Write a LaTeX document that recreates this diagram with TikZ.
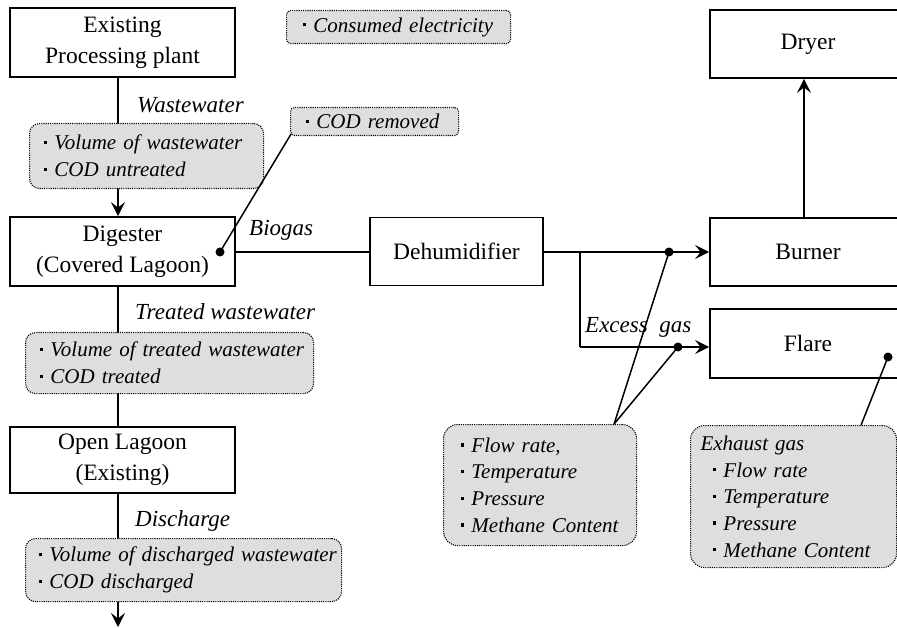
\documentclass[tikz,border=0pt]{standalone}
\usepackage{fontspec}
\setmainfont{Liberation Serif}
\usetikzlibrary{arrows.meta}
\pgfdeclarelayer{back}
\pgfdeclarelayer{under}
\pgfsetlayers{back,under,main}
\definecolor{calgray}{RGB}{222,222,222}
\newcommand{\bul}{\raisebox{0.27em}{\rule{0.16em}{0.16em}}\hspace{0.36em}}
\newcommand{\cItem}[1]{\mbox{\bul #1}}
\begin{document}
\begin{tikzpicture}[x=1pt,y=-1pt,
  blk/.style={draw, line width=1.8pt, align=center, inner sep=0pt, font=\fontsize{23.5}{31}\selectfont},
  lbl/.style={anchor=west, inner sep=0pt, font=\fontsize{23}{28}\selectfont\itshape},
  callout/.style={anchor=north west, draw, fill=calgray, line width=1.1pt, dash pattern=on 1.1pt off 1.1pt, rounded corners=10pt, align=left, inner ysep=0pt, font=\fontsize{21}{26.7}\selectfont\itshape},
  conn/.style={line width=1.5pt},
  arr/.style={conn, -{Stealth[length=14pt,width=14pt,inset=5.5pt]}}
]
\begin{pgfonlayer}{back}
\fill[white] (0,0) rectangle (897,628);
\end{pgfonlayer}
\useasboundingbox (0,0) rectangle (897,628);

% main boxes
\node[blk, minimum width=225pt, minimum height=69pt] (plant) at (122.5,42.5) {Existing\\Processing plant};
\node[blk, minimum width=225pt, minimum height=69pt] (dig) at (122.5,251.5) {Digester\\(Covered Lagoon)};
\node[blk, minimum width=225pt, minimum height=66pt] (lag) at (122.5,460) {Open Lagoon\\(Existing)};
\node[blk, minimum width=173pt, minimum height=68pt] (dehum) at (456.5,251.5) {Dehumidifier};
\node[blk, minimum width=196pt, minimum height=68pt] (dryer) at (808,44) {Dryer};
\node[blk, minimum width=196pt, minimum height=68pt] (burner) at (808,252) {Burner};
\node[blk, minimum width=196pt, minimum height=69pt] (flare) at (808,343.5) {Flare};

% callouts
\node[callout, rounded corners=4pt, inner xsep=16pt, text width=192pt, minimum height=33pt] (elec) at (286,10) {\cItem{Consumed electricity}};
\node[callout, rounded corners=4pt, inner xsep=15pt, text width=138pt, minimum height=28pt] (codrem) at (290,107) {\cItem{COD removed}};
\node[callout, inner xsep=14pt, text width=206pt, minimum height=65pt] (c1) at (29,123) {\cItem{Volume of wastewater}\\\cItem{COD untreated}};
\node[callout, inner xsep=14pt, text width=260pt, minimum height=61pt] (c2) at (25,332) {\cItem{Volume of treated wastewater}\\\cItem{COD treated}};
\node[callout, inner xsep=13pt, text width=290pt, minimum height=63pt] (c3) at (25,538) {\cItem{Volume of discharged wastewater}\\\cItem{COD discharged}};
\node[callout, rounded corners=14pt, inner xsep=17pt, text width=159pt, minimum height=121pt] (flow) at (443,424) {\cItem{Flow rate,}\\\cItem{Temperature}\\\cItem{Pressure}\\\cItem{Methane Content}};
\node[callout, rounded corners=14pt, inner xsep=10pt, text width=186pt, minimum height=142pt] (exh) at (690,425) {Exhaust gas\\\hspace*{12pt}\cItem{Flow rate}\\\hspace*{12pt}\cItem{Temperature}\\\hspace*{12pt}\cItem{Pressure}\\\hspace*{12pt}\cItem{Methane Content}};

% labels
\node[lbl] (lww) at (137,105) {Wastewater};
\node[lbl] (lbio) at (249,230) {Biogas};
\node[lbl] (ltw) at (135,312) {Treated wastewater};
\node[lbl] (ldis) at (135,521) {Discharge};
\node[lbl] (lex) at (585,327) {Excess\ \ gas};

% coordinates
\coordinate (br) at (580,252);
\coordinate (brd) at (580,347);
\coordinate (out) at (118,627);
\coordinate (d0) at (220,252);
\coordinate (d1) at (669,252);
\coordinate (d2) at (678,347);
\coordinate (d3) at (888,357);

% vertical chain behind callouts
\begin{pgfonlayer}{under}
\draw[arr] ([xshift=-4.5pt]plant.south) -- ([xshift=-4.5pt]dig.north);
\draw[conn] ([xshift=-4.5pt]dig.south) -- ([xshift=-4.5pt]lag.north);
\draw[arr] ([xshift=-4.5pt]lag.south) -- (out);
\end{pgfonlayer}

% gas line
\draw[conn] (dig.east |- d0) -- (d0 -| dehum.west);
\draw[arr] (dehum.east |- br) -- (br -| burner.west);
\draw[conn] (br) -- (brd);
\draw[arr] (brd) -- (brd -| flare.west);
\draw[arr] ([xshift=-4pt]burner.north) -- ([xshift=-4pt]dryer.south);

% measurement pointers
\draw[conn] (d0) -- ([shift={(1,-2)}]codrem.south west);
\draw[conn] (d1) -- ([xshift=-23pt]flow.north east);
\draw[conn] (d2) -- ([xshift=-23pt]flow.north east);
\draw[conn] (d3) -- ([xshift=-36pt]exh.north east);
\foreach \p in {d0,d1,d2,d3} \fill (\p) circle[radius=4.5pt];
\end{tikzpicture}
\end{document}
